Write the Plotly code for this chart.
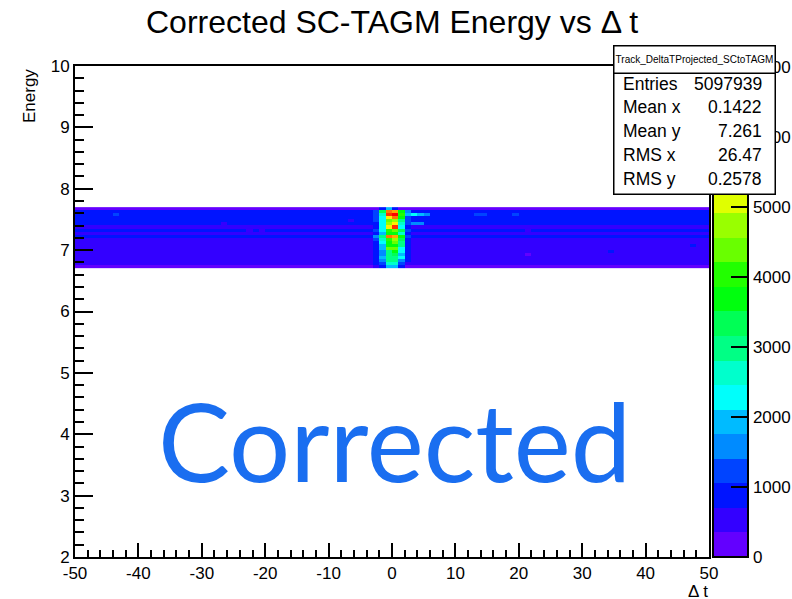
import plotly.graph_objects as go

# ---------------------------------------------------------------------------
# Histogram: Track_DeltaTProjected_SCtoTAGM  (SC-TAGM energy vs delta t)
# ---------------------------------------------------------------------------
# delta t bins: 100 bins of width 1 from -50 to 50 (bin centres)
dt_centers = [-49.5 + i for i in range(100)]

# energy bins of width 0.05 from 6.70 to 7.70 (centres, bottom to top)
energy_centers = [6.725, 6.775, 6.825, 6.875, 6.925, 6.975, 7.025, 7.075, 7.125, 7.175,
                  7.225, 7.275, 7.325, 7.375, 7.425, 7.475, 7.525, 7.575, 7.625, 7.675]

# flat accidental level in each energy row (top row first)
row_background = [220, 860, 890, 910, 900, 870, 590, 820, 600, 780,
                  560, 540, 530, 510, 520, 500, 530, 510, 520, 230]

# coincidence peak: columns with lower edges -4 .. 5, rows top to bottom
peak_dt_lo = [-4, -3, -2, -1, 0, 1, 2, 3, 4, 5]
peak_counts = [
    [220, 240, 900, 1900, 950, 260, 230, 220, 210, 220],
    [880, 1300, 3400, 6200, 5800, 3700, 1600, 900, 880, 870],
    [900, 1250, 2700, 6550, 6950, 4100, 1900, 2300, 1950, 1600],
    [910, 1280, 2350, 5500, 6150, 3650, 1250, 920, 900, 900],
    [900, 1200, 2300, 4400, 4750, 3000, 1250, 900, 890, 900],
    [870, 950, 2250, 4800, 5450, 2700, 1200, 1600, 1550, 880],
    [590, 900, 2300, 5400, 6500, 2350, 880, 600, 590, 590],
    [820, 1250, 2350, 4100, 4400, 3350, 1200, 830, 820, 820],
    [600, 880, 1950, 3700, 3700, 2650, 870, 600, 600, 600],
    [780, 1600, 3000, 6150, 5800, 3700, 1200, 800, 780, 780],
    [560, 1200, 2650, 4050, 4750, 3350, 880, 560, 560, 560],
    [540, 880, 2300, 3700, 4400, 3000, 880, 540, 540, 540],
    [530, 880, 1950, 3650, 3700, 2950, 870, 530, 530, 530],
    [510, 880, 1950, 4400, 4400, 2300, 870, 510, 510, 510],
    [520, 870, 1600, 3000, 3700, 2300, 870, 520, 520, 520],
    [500, 870, 1600, 3000, 3350, 1950, 880, 500, 500, 500],
    [530, 880, 1950, 3000, 3000, 2300, 870, 530, 530, 530],
    [510, 870, 1600, 2950, 2950, 1600, 880, 510, 510, 510],
    [520, 880, 1250, 2650, 2650, 1250, 540, 520, 520, 520],
    [230, 540, 880, 1950, 1950, 880, 240, 230, 230, 230],
]

# isolated bins that stand out from the flat level: (dt lower edge, energy centre, counts)
extra_dt_lo = [-44, -27, -23, -21, -7, 13, 14, 19, 21, 47, 34, 21]
extra_energy = [7.575, 7.425, 7.325, 7.325, 7.475, 7.575, 7.575, 7.575, 7.325, 7.075, 6.975, 6.925]
extra_counts = [1300, 600, 600, 600, 560, 1300, 1300, 1300, 560, 900, 900, 250]

# statistics box contents
stats_title = "Track_DeltaTProjected_SCtoTAGM"
stats_labels = ["Entries", "Mean x", "Mean y", "RMS x", "RMS y"]
stats_values = ["5097939", "0.1422", "7.261", "26.47", "0.2578"]

z_max = 7014
x_ticks = [-50, -40, -30, -20, -10, 0, 10, 20, 30, 40, 50]
x_tick_text = ["-50", "-40", "-30", "-20", "-10", "0", "10", "20", "30", "40", "50"]
y_ticks = [2, 3, 4, 5, 6, 7, 8, 9, 10]
z_ticks = [0, 1000, 2000, 3000, 4000, 5000, 6000, 7000]

# ---------------------------------------------------------------------------
# Fill the bin-content matrix (rows bottom -> top for plotly)
# ---------------------------------------------------------------------------
n_rows = len(row_background)
z = []
for j in range(n_rows):
    r = n_rows - 1 - j          # row index counted from the top
    row = [row_background[r]] * len(dt_centers)
    for c, lo in enumerate(peak_dt_lo):
        row[lo + 50] = peak_counts[r][c]
    z.append(row)
for lo, e, v in zip(extra_dt_lo, extra_energy, extra_counts):
    j = min(range(n_rows), key=lambda k: abs(energy_centers[k] - e))
    z[j][lo + 50] = v

# 20-level rainbow palette (violet -> red)
palette = ["#6300ff", "#3300ff", "#0014ff", "#0044ff", "#008bff", "#00bbff",
           "#00fffb", "#00ffcc", "#00ff85", "#00ff55", "#00ff0e", "#22ff00",
           "#69ff00", "#99ff00", "#e0ff00", "#ffee00", "#ffa700", "#ff7700",
           "#ff3000", "#ff0000"]
n_lev = len(palette)
colorscale = []
for k, col in enumerate(palette):
    colorscale.append([k / n_lev, col])
    colorscale.append([(k + 1) / n_lev, col])

# ---------------------------------------------------------------------------
# Page geometry (pixels)
# ---------------------------------------------------------------------------
W, H = 792, 599
L, R, T, B = 75, 83, 66, 42
PW, PH = W - L - R, H - T - B


def px(xp):
    return (xp - L) / PW


def py(yp):
    return (H - B - yp) / PH


FONT = "Liberation Sans, Arial, Helvetica, sans-serif"

fig = go.Figure()
fig.add_trace(go.Heatmap(
    x=dt_centers, y=energy_centers, z=z,
    zmin=0, zmax=z_max, colorscale=colorscale,
    hoverinfo="skip",
    colorbar=dict(
        thickness=35, thicknessmode="pixels",
        len=1, lenmode="fraction", y=0, yanchor="bottom",
        x=px(713), xanchor="left", xpad=0, ypad=0,
        outlinecolor="black", outlinewidth=2,
        tickmode="array", tickvals=z_ticks,
        ticks="inside", ticklen=18, tickwidth=2, tickcolor="black",
        tickfont=dict(family=FONT, size=17, color="black"),
    ),
))

fig.update_layout(
    width=W, height=H,
    margin=dict(l=L, r=R, t=T, b=B, pad=0, autoexpand=False),
    paper_bgcolor="white", plot_bgcolor="white",
    showlegend=False,
    xaxis=dict(
        range=[-50, 50], tickmode="array", tickvals=x_ticks, ticktext=x_tick_text,
        ticks="inside", ticklen=14, tickwidth=2, tickcolor="black",
        minor=dict(dtick=2, ticks="inside", ticklen=7, tickwidth=2, tickcolor="black"),
        showline=True, linecolor="black", linewidth=2, mirror=True,
        showgrid=False, zeroline=False,
        tickfont=dict(family=FONT, size=17, color="black"),
    ),
    yaxis=dict(
        range=[2, 10], tickmode="array", tickvals=y_ticks,
        ticks="inside", ticklen=18, tickwidth=2, tickcolor="black",
        minor=dict(dtick=0.2, ticks="inside", ticklen=9, tickwidth=2, tickcolor="black"),
        showline=True, linecolor="black", linewidth=2, mirror=True,
        showgrid=False, zeroline=False,
        tickfont=dict(family=FONT, size=17, color="black"),
    ),
)

ann = []
# title and axis titles
ann.append(dict(text="Corrected SC-TAGM Energy vs \u0394 t", x=px(392), y=py(22),
                xref="paper", yref="paper", xanchor="center", yanchor="middle",
                showarrow=False, font=dict(family=FONT, size=32, color="black")))
ann.append(dict(text="Energy", x=px(30), y=py(96), textangle=-90,
                xref="paper", yref="paper", xanchor="center", yanchor="middle",
                showarrow=False, font=dict(family=FONT, size=17, color="black")))
ann.append(dict(text="\u0394 t", x=px(710), y=py(591),
                xref="paper", yref="paper", xanchor="right", yanchor="middle",
                showarrow=False, font=dict(family=FONT, size=17, color="black")))
# big label inside the frame
ann.append(dict(text="Corrected", x=px(394), y=py(440),
                xref="paper", yref="paper", xanchor="center", yanchor="middle",
                showarrow=False, font=dict(family="Lato, sans-serif", size=108, color="#1a6ef0")))

# statistics box (drawn over the colour scale)
bx0, bx1, by0, by1, tby = 613, 773, 45, 192, 71
ann.append(dict(text="", x=px(bx0), y=py(by0), xref="paper", yref="paper",
                xanchor="left", yanchor="top", width=bx1 - bx0, height=by1 - by0,
                bgcolor="white", bordercolor="black", borderwidth=1.5, borderpad=0,
                showarrow=False))
ann.append(dict(text=stats_title, x=px(bx0), y=py(by0), xref="paper", yref="paper",
                xanchor="left", yanchor="top", width=bx1 - bx0, height=tby - by0,
                align="center", valign="middle",
                bgcolor="white", bordercolor="black", borderwidth=1.5, borderpad=0,
                showarrow=False, font=dict(family=FONT, size=10, color="black")))
row_y = [84, 107, 131, 155, 179]
for lab, val, yy in zip(stats_labels, stats_values, row_y):
    ann.append(dict(text=lab, x=px(621), y=py(yy), xref="paper", yref="paper",
                    xanchor="left", yanchor="middle", showarrow=False,
                    font=dict(family=FONT, size=17.5, color="black")))
    ann.append(dict(text=val, x=px(764), y=py(yy), xref="paper", yref="paper",
                    xanchor="right", yanchor="middle", showarrow=False,
                    font=dict(family=FONT, size=17.5, color="black")))

fig.update_layout(annotations=ann)
fig.write_html("out.html")
